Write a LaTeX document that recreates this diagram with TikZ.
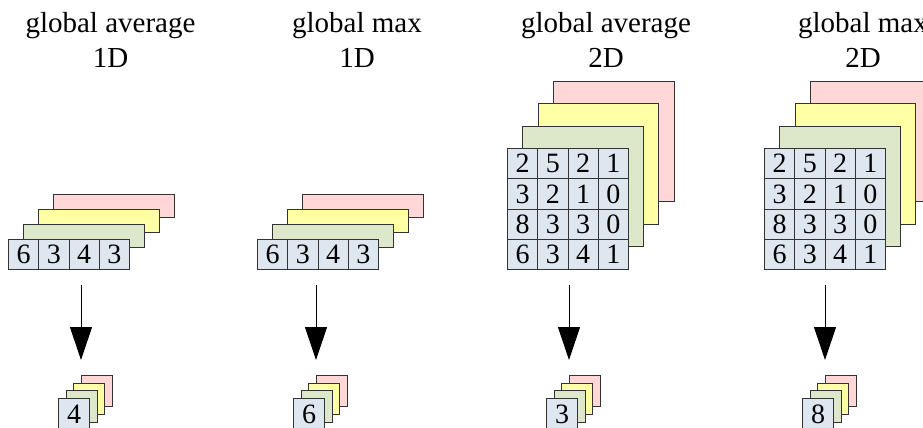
\documentclass[tikz,border=0pt]{standalone}
\usepackage{fontspec}
\setmainfont{Liberation Serif}
\usetikzlibrary{arrows.meta}
\definecolor{cellblue}{HTML}{DEE6EF}
\definecolor{laygreen}{HTML}{DDE8CB}
\definecolor{layyellow}{HTML}{FFFFA6}
\definecolor{laypink}{HTML}{FFD7D7}
\definecolor{edge}{HTML}{333333}
\tikzset{
  cell/.style={draw=edge, line width=1pt, fill=cellblue, minimum width=30.25pt,
    minimum height=30pt, inner sep=0pt, anchor=north west,
    font=\fontsize{28}{28}\selectfont},
  layer/.style={draw=edge, line width=1pt},
  title/.style={anchor=base, inner sep=0pt, font=\fontsize{29}{34}\selectfont},
  down/.style={line width=1pt, -{Triangle[width=22pt,length=33pt]}},
}
\begin{document}
\begin{tikzpicture}[x=1pt,y=-1pt]
\clip (0,0) rectangle (923,428);
\fill[white] (0,0) rectangle (923,428);

% headings
\foreach \n/\cx/\a/\b in {1/110.5/global average/1D, 2/357/global max/1D,
                          3/606/global average/2D, 4/863/global max/2D}{
  \node[title] (t\n a) at (\cx,33) {\a};
  \node[title] (t\n b) at (\cx,67) {\b};
}

% 1D inputs: three channels behind a row of values
\foreach \n/\X in {1/8, 2/257}{
  \path[layer, fill=laypink]   (\X+45,194) rectangle (\X+166,217);
  \path[layer, fill=layyellow] (\X+30,209) rectangle (\X+151,232);
  \path[layer, fill=laygreen]  (\X+15,224) rectangle (\X+136,247);
  \foreach \v [count=\i from 0] in {6,3,4,3}
    \node[cell] (g\n-\i) at (\X+\i*30.25,239) {\v};
}

% 2D inputs: three channels behind a 4x4 grid
\foreach \n/\X in {3/507, 4/764}{
  \path[layer, fill=laypink]   (\X+46,81)  rectangle (\X+167,201);
  \path[layer, fill=layyellow] (\X+31,103) rectangle (\X+151,224);
  \path[layer, fill=laygreen]  (\X+15,126) rectangle (\X+136,246);
  \foreach \row [count=\r from 0] in {{2,5,2,1},{3,2,1,0},{8,3,3,0},{6,3,4,1}}
    \foreach \v [count=\c from 0] in \row
      \node[cell, minimum height=30.25pt] (g\n-\r-\c) at (\X+\c*30.25,148+\r*30.25) {\v};
}

% pooled outputs and arrows
\foreach \n/\L/\v in {1/58/4, 2/293/6, 3/546/3, 4/802/8}{
  \path[layer, fill=laypink]   (\L+23,375) rectangle (\L+54,406);
  \path[layer, fill=layyellow] (\L+15,383) rectangle (\L+46,414);
  \path[layer, fill=laygreen]  (\L+8,390)  rectangle (\L+39,422);
  \node[cell, minimum width=31pt, minimum height=31pt] (s\n) at (\L,398) {\v};
  \coordinate (a\n) at (\L+23,285);
  \coordinate (b\n) at (\L+23,360);
  \draw[down] (a\n) -- (b\n);
}
\end{tikzpicture}
\end{document}
